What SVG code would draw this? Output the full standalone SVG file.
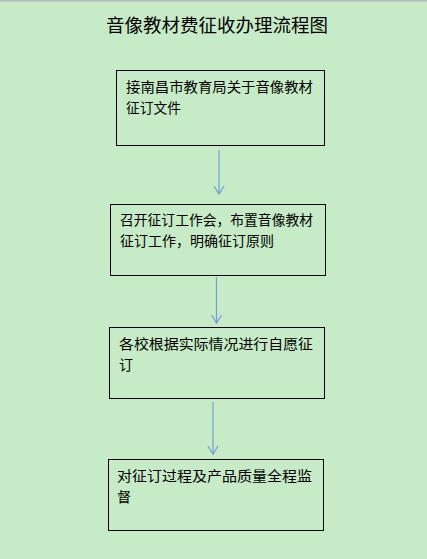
<svg xmlns="http://www.w3.org/2000/svg" width="427" height="559" viewBox="0 0 427 559">
<style>
.box{fill:none;stroke:#000;stroke-width:1}
.t{font-family:"Noto Sans CJK SC","Noto Sans CJK JP",sans-serif;font-size:14px;fill:#000}
.title{font-family:"Noto Sans CJK SC","Noto Sans CJK JP",sans-serif;font-size:18px;fill:#000}
.c{stroke:#6fa0d8;stroke-width:1.2;fill:none}
</style>
<defs>
<marker id="ah" markerWidth="12" markerHeight="12" refX="9" refY="6" orient="auto" markerUnits="userSpaceOnUse" viewBox="0 0 12 12">
<path d="M1,1 L9,6 L1,11" fill="none" stroke="#6fa0d8" stroke-width="1.2"/>
</marker>
</defs>
<rect x="0" y="0" width="427" height="559" fill="#c7ebc7"/>
<rect x="0" y="0" width="427" height="1.5" fill="#b4b8c4"/>
<text class="title" x="106" y="32" textLength="222" lengthAdjust="spacingAndGlyphs">音像教材费征收办理流程图</text>
<g id="node1">
<rect class="box" x="116.5" y="70.5" width="208" height="75"/>
<text class="t" x="126" y="92" textLength="187" lengthAdjust="spacingAndGlyphs">接南昌市教育局关于音像教材</text>
<text class="t" x="126" y="113" textLength="55" lengthAdjust="spacingAndGlyphs">征订文件</text>
</g>
<g id="node2">
<rect class="box" x="110.5" y="204.5" width="215" height="71"/>
<text class="t" x="120" y="225" textLength="193" lengthAdjust="spacingAndGlyphs">召开征订工作会，布置音像教材</text>
<text class="t" x="120" y="246" textLength="154" lengthAdjust="spacingAndGlyphs">征订工作，明确征订原则</text>
</g>
<g id="node3">
<rect class="box" x="109.5" y="327.5" width="215" height="71"/>
<text class="t" x="119" y="349" textLength="194" lengthAdjust="spacingAndGlyphs">各校根据实际情况进行自愿征</text>
<text class="t" x="119" y="370">订</text>
</g>
<g id="node4">
<rect class="box" x="108.5" y="459.5" width="215" height="71"/>
<text class="t" x="117" y="481" textLength="195" lengthAdjust="spacingAndGlyphs">对征订过程及产品质量全程监</text>
<text class="t" x="117" y="502">督</text>
</g>
<g id="connectors">
<line class="c" x1="219" y1="150" x2="219" y2="194" marker-end="url(#ah)"/>
<line class="c" x1="216.5" y1="277" x2="216.5" y2="323" marker-end="url(#ah)"/>
<line class="c" x1="213" y1="402" x2="213" y2="454" marker-end="url(#ah)"/>
</g>
</svg>
